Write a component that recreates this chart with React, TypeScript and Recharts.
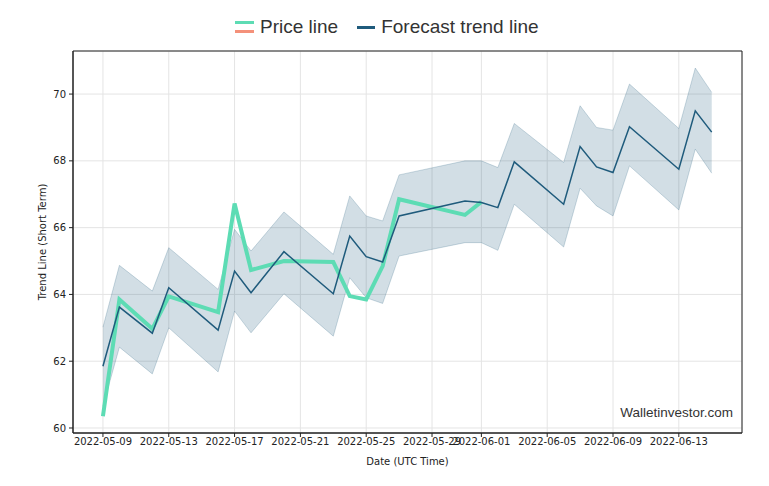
import {
  Area,
  CartesianGrid,
  ComposedChart,
  Line,
  ReferenceArea,
  XAxis,
  YAxis,
} from "recharts";

const dates = [
  "2022-05-09", "2022-05-10", "2022-05-12", "2022-05-13", "2022-05-16",
  "2022-05-17", "2022-05-18", "2022-05-20", "2022-05-23", "2022-05-24",
  "2022-05-25", "2022-05-26", "2022-05-27", "2022-05-31", "2022-06-01",
  "2022-06-02", "2022-06-03", "2022-06-06", "2022-06-07", "2022-06-08",
  "2022-06-09", "2022-06-10", "2022-06-13", "2022-06-14", "2022-06-15",
];

const priceLine = [
  60.35, 63.85, 62.97, 63.94, 63.47, 66.72, 64.73, 65.0, 64.97, 63.95,
  63.85, 64.85, 66.85, 66.38, 66.77,
];

const forecastLine = [
  61.85, 63.62, 62.84, 64.2, 62.93, 64.7, 64.05, 65.28, 64.02, 65.75,
  65.13, 64.97, 66.35, 66.8, 66.75, 66.6, 67.97, 66.7, 68.43, 67.82,
  67.65, 69.02, 67.75, 69.5, 68.86,
];

const upperBand = [
  63.02, 64.87, 64.1, 65.4, 64.15, 65.95, 65.3, 66.47, 65.2, 66.95,
  66.35, 66.2, 67.58, 68.0, 68.0, 67.8, 69.12, 67.95, 69.65, 69.0,
  68.92, 70.3, 68.97, 70.78, 70.05,
];

const lowerBand = [
  60.65, 62.42, 61.62, 63.0, 61.68, 63.5, 62.85, 64.02, 62.75, 64.5,
  63.9, 63.73, 65.15, 65.55, 65.55, 65.32, 66.7, 65.42, 67.18, 66.65,
  66.35, 67.85, 66.53, 68.35, 67.63,
];

const tickDates = [
  "2022-05-09", "2022-05-13", "2022-05-17", "2022-05-21", "2022-05-25",
  "2022-05-29", "2022-06-01", "2022-06-05", "2022-06-09", "2022-06-13",
];

const yTicks = [60, 62, 64, 66, 68, 70];

const DAY = 24 * 3600 * 1000;
const start = Date.parse("2022-05-09");
const xDomain = [start - 1.82 * DAY, start + 38.84 * DAY];
const yDomain = [59.85, 71.29];

const rows = dates.map((d, i) => ({
  t: Date.parse(d),
  price: i < priceLine.length ? priceLine[i] : null,
  forecast: forecastLine[i],
  band: [lowerBand[i], upperBand[i]],
}));

const xTicks = tickDates.map((d) => Date.parse(d));
const fmtDate = (t: number) => new Date(t).toISOString().slice(0, 10);

const green = "#5ddcb4";
const salmon = "#f4917a";
const navy = "#1f5b7c";
const tickStyle = { fontFamily: "DejaVu Sans", fontSize: 10, fill: "#222" };

function YLabel(props: any) {
  const vb = props.viewBox || { x: 0, y: 51, width: 73, height: 382 };
  const cx = vb.x + 43;
  const cy = vb.y + vb.height / 2;
  return (
    <text
      x={cx}
      y={cy}
      transform={`rotate(-90 ${cx} ${cy})`}
      textAnchor="middle"
      dominantBaseline="middle"
      style={{ fontFamily: "DejaVu Sans", fontSize: 10, fill: "#222" }}
    >
      Trend Line (Short Term)
    </text>
  );
}

export default function App() {
  return (
    <div style={{ position: "relative", width: 769, height: 486, margin: -8, background: "#fff" }}>
      <div
        style={{
          position: "absolute",
          top: 16,
          left: 235,
          display: "flex",
          alignItems: "center",
          fontFamily: "Liberation Sans, Arial, sans-serif",
          fontSize: 19,
          color: "#333",
          whiteSpace: "nowrap",
        }}
      >
        <span style={{ display: "inline-flex", flexDirection: "column", gap: 6, width: 19 }}>
          <span style={{ height: 3, background: green }} />
          <span style={{ height: 3, background: salmon }} />
        </span>
        <span style={{ marginLeft: 6 }}>Price line</span>
        <span style={{ marginLeft: 19, width: 18, height: 3, background: navy }} />
        <span style={{ marginLeft: 6 }}>Forecast trend line</span>
      </div>

      <ComposedChart
        width={769}
        height={486}
        data={rows}
        margin={{ top: 51, right: 27, bottom: 0, left: 0 }}
      >
        <CartesianGrid stroke="#e4e4e4" />
        <XAxis
          dataKey="t"
          type="number"
          domain={xDomain}
          allowDataOverflow
          ticks={xTicks}
          tickFormatter={fmtDate}
          interval={0}
          height={53}
          tickSize={4}
          tickMargin={1}
          stroke="#222"
          tick={tickStyle}
          label={{
            value: "Date (UTC Time)",
            position: "insideBottom",
            offset: 21,
            style: { fontFamily: "DejaVu Sans", fontSize: 10, fill: "#222" },
          }}
        />
        <YAxis
          type="number"
          domain={yDomain}
          allowDataOverflow
          ticks={yTicks}
          width={73}
          tickSize={4}
          tickMargin={3}
          stroke="#222"
          tick={tickStyle}
          label={<YLabel />}
        />
        <Area
          dataKey="band"
          type="linear"
          stroke={navy}
          strokeOpacity={0.22}
          fill={navy}
          fillOpacity={0.2}
          isAnimationActive={false}
          dot={false}
          activeDot={false}
        />
        <Line
          dataKey="price"
          type="linear"
          stroke={green}
          strokeWidth={4}
          dot={false}
          activeDot={false}
          isAnimationActive={false}
        />
        <Line
          dataKey="forecast"
          type="linear"
          stroke={navy}
          strokeWidth={1.5}
          dot={false}
          activeDot={false}
          isAnimationActive={false}
        />
        <ReferenceArea
          x1={xDomain[0]}
          x2={xDomain[1]}
          y1={yDomain[0]}
          y2={yDomain[1]}
          fill="none"
          fillOpacity={0}
          stroke="#222"
          strokeWidth={1}
          ifOverflow="visible"
        />
      </ComposedChart>

      <div
        style={{
          position: "absolute",
          right: 36,
          top: 405,
          fontFamily: "Liberation Sans, Arial, sans-serif",
          fontSize: 13.5,
          color: "#333",
        }}
      >
        Walletinvestor.com
      </div>
    </div>
  );
}
